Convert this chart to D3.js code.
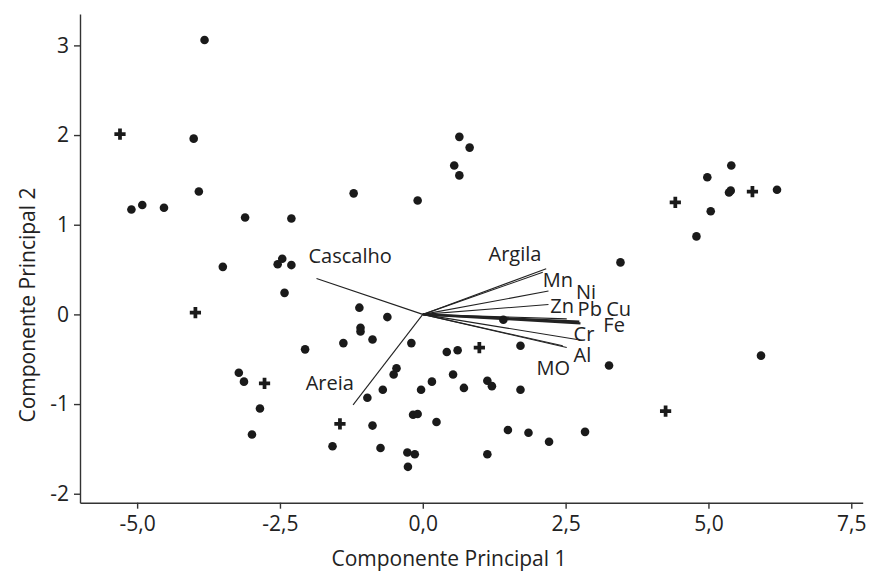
<html>
<meta charset="UTF-8">
<head>
    <title>Componentes Principais</title>
    <script src="https://d3js.org/d3.v7.min.js"></script>
    <style>
        body {
            margin: 0;
            background: white;
            font-family: "Open Sans", sans-serif;
        }
        .axis path, .axis line {
            stroke: #333;
            stroke-width: 1.4px;
        }
        .axis text {
            font-family: "Open Sans", sans-serif;
            font-size: 21px;
            fill: #222;
        }
        .axisTitle {
            font-size: 21px;
            fill: #222;
        }
        .vectorLabel {
            font-size: 20px;
            fill: #222;
        }
    </style>
</head>
<body>
    <svg id="graph" height=571 width=878></svg>
</body>
<script>
    // sample scores: circles
    const circleX = [-3.82, -4.01, -3.92, -5.10, -4.91, -4.53, -3.11, -2.30, -3.50, -2.54, -2.46, -2.30,
        -2.42, -2.06, -3.22, -3.13, -2.85, -2.99, -1.58, 0.64, 0.82, 0.55, 0.64, -1.21, -0.09,
        -1.11, -0.62, -1.09, -1.09, -0.88, -1.39, -0.20, -0.46, -0.51, -0.70, -0.97, -0.03, 0.16,
        -0.88, -0.17, -0.09, 0.24, -0.74, -0.27, -0.14, -0.26, 0.42, 0.61, 1.71, 1.41, 0.53, 0.72,
        1.13, 1.21, 1.71, 1.49, 1.85, 2.21, 2.84, 1.13, 3.26, 5.92, 3.46, 5.40, 4.98, 5.39, 5.36,
        6.20, 5.04, 4.79];
    const circleY = [3.06, 1.96, 1.37, 1.17, 1.22, 1.19, 1.08, 1.07, 0.53, 0.56, 0.62, 0.55,
        0.24, -0.39, -0.65, -0.75, -1.05, -1.34, -1.47, 1.98, 1.86, 1.66, 1.55, 1.35, 1.27,
        0.075, -0.03, -0.15, -0.19, -0.28, -0.32, -0.32, -0.60, -0.67, -0.84, -0.93, -0.84, -0.75,
        -1.24, -1.12, -1.11, -1.20, -1.49, -1.54, -1.56, -1.70, -0.42, -0.40, -0.35, -0.06, -0.67, -0.82,
        -0.74, -0.80, -0.84, -1.29, -1.32, -1.42, -1.31, -1.56, -0.57, -0.46, 0.58, 1.66, 1.53, 1.38, 1.36,
        1.39, 1.15, 0.87];

    // sample scores: crosses
    const crossX = [-5.30, -3.98, -2.77, -1.45, 0.99, 4.25, 4.42, 5.77];
    const crossY = [2.01, 0.02, -0.77, -1.22, -0.37, -1.08, 1.25, 1.37];

    // loading vectors
    const varNames = ["Cascalho", "Areia", "Argila", "Mn", "Ni", "Zn", "Pb", "Cu", "Fe", "Cr", "Al", "MO"];
    const varX = [-1.86, -1.22, 2.16, 2.10, 2.20, 2.20, 2.52, 2.74, 2.76, 2.70, 2.52, 2.45];
    const varY = [0.40, -1.01, 0.51, 0.47, 0.26, 0.11, -0.05, -0.08, -0.10, -0.28, -0.37, -0.35];
    // where each label sits (data units, text start / baseline)
    const labelX = [-2.00, -2.05, 1.15, 2.10, 2.68, 2.23, 2.71, 3.21, 3.16, 2.64, 2.64, 1.99];
    const labelY = [0.576, -0.84, 0.59, 0.31, 0.17, 0.016, -0.015, -0.015, -0.20, -0.30, -0.53, -0.68];

    // ticks
    const xTicks = [-5, -2.5, 0, 2.5, 5, 7.5];
    const xTickLabels = ["-5,0", "-2,5", "0,0", "2,5", "5,0", "7,5"];
    const yTicks = [-2, -1, 0, 1, 2, 3];
    const yTickLabels = ["-2", "-1", "0", "1", "2", "3"];

    const g = d3.select("svg#graph");
    const margin = {top: 14, right: 15.3, bottom: 68.3, left: 80};
    const width = g.attr("width");
    const height = g.attr("height");
    const chartWidth = width - margin.left - margin.right;
    const chartHeight = height - margin.top - margin.bottom;

    const xScale = d3.scaleLinear().domain([-6, 7.7]).range([0, chartWidth]);
    const yScale = d3.scaleLinear().domain([-2.1, 3.35]).range([chartHeight, 0]);

    let annotations = g.append("g").attr("id", "annotations");
    let chartArea = g.append("g").attr("id", "points")
        .attr("transform", `translate(${margin.left},${margin.top})`);

    // --- axes
    let bottomAxis = d3.axisBottom(xScale)
        .tickValues(xTicks)
        .tickFormat((d, i) => xTickLabels[i])
        .tickSizeInner(6).tickSizeOuter(0).tickPadding(7);
    annotations.append("g")
        .attr("class", "x axis")
        .attr("transform", `translate(${margin.left},${margin.top + chartHeight})`)
        .call(bottomAxis);

    let leftAxis = d3.axisLeft(yScale)
        .tickValues(yTicks)
        .tickFormat((d, i) => yTickLabels[i])
        .tickSizeInner(6).tickSizeOuter(0).tickPadding(5);
    annotations.append("g")
        .attr("class", "y axis")
        .attr("transform", `translate(${margin.left},${margin.top})`)
        .call(leftAxis);

    // --- axis titles
    g.append("text")
        .attr("class", "axisTitle")
        .attr("x", 449)
        .attr("y", 566)
        .attr("text-anchor", "middle")
        .text("Componente Principal 1");

    g.append("text")
        .attr("class", "axisTitle")
        .attr("transform", "translate(35,305) rotate(-90)")
        .attr("text-anchor", "middle")
        .text("Componente Principal 2");

    // --- loading vectors
    const vectors = varNames.map((n, i) => ({name: n, x: varX[i], y: varY[i], lx: labelX[i], ly: labelY[i]}));

    chartArea.selectAll("line.vector")
        .data(vectors)
        .join("line")
        .attr("class", "vector")
        .attr("x1", xScale(0))
        .attr("y1", yScale(0))
        .attr("x2", d => xScale(d.x))
        .attr("y2", d => yScale(d.y))
        .attr("stroke", "#222")
        .attr("stroke-width", d => (d.name == "Fe" || d.name == "Cu") ? 2.2 : 1.1);

    chartArea.selectAll("text.vectorLabel")
        .data(vectors)
        .join("text")
        .attr("class", "vectorLabel")
        .attr("x", d => xScale(d.lx))
        .attr("y", d => yScale(d.ly))
        .text(d => d.name);

    // --- samples
    const circles = circleX.map((x, i) => ({x: x, y: circleY[i]}));
    const crosses = crossX.map((x, i) => ({x: x, y: crossY[i]}));

    chartArea.selectAll("circle")
        .data(circles)
        .join("circle")
        .attr("r", 4.3)
        .attr("cx", d => xScale(d.x))
        .attr("cy", d => yScale(d.y))
        .attr("fill", "#1a1a1a");

    chartArea.selectAll("path.cross")
        .data(crosses)
        .join("path")
        .attr("class", "cross")
        .attr("d", d3.symbol(d3.symbolCross).size(70))
        .attr("transform", d => `translate(${xScale(d.x)},${yScale(d.y)})`)
        .attr("fill", "#1a1a1a");
</script>
</html>
